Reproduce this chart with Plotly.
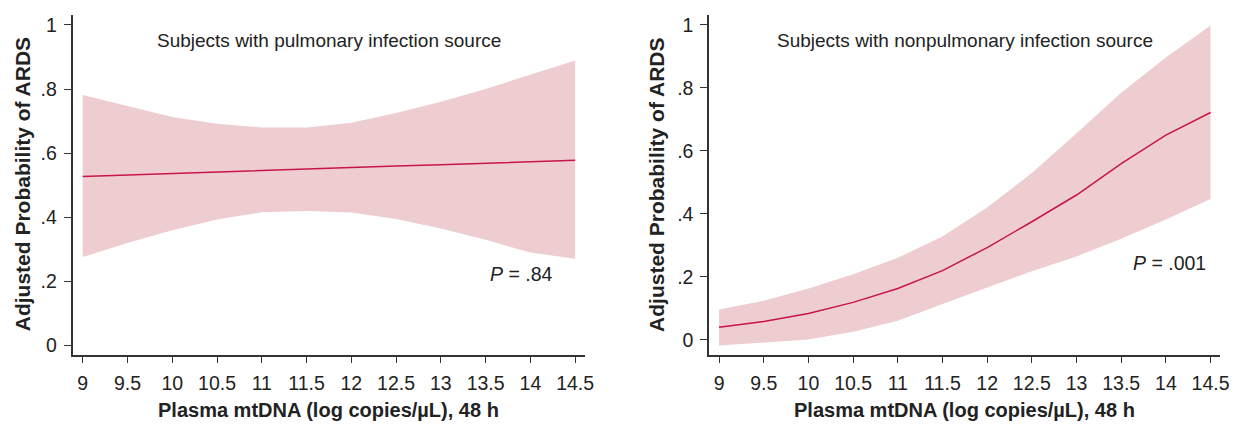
import plotly.graph_objects as go

# ---- data ----
x_vals = [9, 9.5, 10, 10.5, 11, 11.5, 12, 12.5, 13, 13.5, 14, 14.5]

pulm_mean = [0.527, 0.532, 0.537, 0.541, 0.546, 0.551, 0.555, 0.560, 0.564, 0.569, 0.573, 0.578]
pulm_upper = [0.781, 0.746, 0.713, 0.692, 0.680, 0.680, 0.695, 0.725, 0.760, 0.800, 0.845, 0.889]
pulm_lower = [0.276, 0.320, 0.360, 0.393, 0.416, 0.420, 0.415, 0.395, 0.365, 0.330, 0.290, 0.271]

nonpulm_mean = [0.040, 0.058, 0.084, 0.119, 0.163, 0.220, 0.293, 0.375, 0.460, 0.560, 0.650, 0.722]
nonpulm_upper = [0.096, 0.124, 0.163, 0.208, 0.261, 0.328, 0.420, 0.530, 0.656, 0.785, 0.897, 0.998]
nonpulm_lower = [-0.018, -0.009, 0.001, 0.026, 0.061, 0.114, 0.167, 0.218, 0.265, 0.321, 0.382, 0.447]

x_ticks = [9, 9.5, 10, 10.5, 11, 11.5, 12, 12.5, 13, 13.5, 14, 14.5]
x_tick_text = ["9", "9.5", "10", "10.5", "11", "11.5", "12", "12.5", "13", "13.5", "14", "14.5"]
y_ticks = [0, 0.2, 0.4, 0.6, 0.8, 1]
y_tick_text = ["0", ".2", ".4", ".6", ".8", "1"]

panel_titles = ["Subjects with pulmonary infection source", "Subjects with nonpulmonary infection source"]
p_texts = ["<i>P</i> = .84", "<i>P</i> = .001"]
y_title = "Adjusted Probability of ARDS"
x_title = "Plasma mtDNA (log copies/µL), 48 h"

BAND = "rgb(238,205,209)"
LINE = "rgb(200,20,75)"
FONT = "Liberation Sans, Arial, sans-serif"
TXT = "#222222"

fig = go.Figure()

panels = [
    (pulm_mean, pulm_upper, pulm_lower, "x", "y"),
    (nonpulm_mean, nonpulm_upper, nonpulm_lower, "x2", "y2"),
]
for mean, up, lo, xa, ya in panels:
    fig.add_trace(go.Scatter(
        x=x_vals + x_vals[::-1], y=up + lo[::-1], fill="toself",
        fillcolor=BAND, line=dict(width=0), mode="lines",
        hoverinfo="skip", showlegend=False, xaxis=xa, yaxis=ya))
    fig.add_trace(go.Scatter(
        x=x_vals, y=mean, mode="lines", line=dict(color=LINE, width=1.5),
        showlegend=False, xaxis=xa, yaxis=ya))

axis_common = dict(
    showgrid=False, zeroline=False, showline=True, linecolor="#333333", linewidth=1.5,
    ticks="outside", ticklen=7, tickwidth=1.3, tickcolor="#333333",
    tickfont=dict(family=FONT, size=19.5, color=TXT), mirror=False,
    ticklabelstandoff=3,
)

fig.update_layout(
    width=1238, height=424,
    margin=dict(l=0, r=0, t=0, b=0),
    paper_bgcolor="white", plot_bgcolor="white",
    font=dict(family=FONT, color=TXT),
    xaxis=dict(domain=[0.059, 0.476], range=[8.886, 14.61], tickvals=x_ticks, ticktext=x_tick_text,
               anchor="y", **axis_common),
    yaxis=dict(domain=[0.160, 0.967], range=[-0.028, 1.031], tickvals=y_ticks, ticktext=y_tick_text,
               anchor="x", **axis_common),
    xaxis2=dict(domain=[0.577, 0.993], range=[8.889, 14.61], tickvals=x_ticks, ticktext=x_tick_text,
                anchor="y2", **axis_common),
    yaxis2=dict(domain=[0.160, 0.967], range=[-0.047, 1.032], tickvals=y_ticks, ticktext=y_tick_text,
                anchor="x2", **axis_common),
)

anns = []
for i in range(2):
    sfx = "" if i == 0 else "2"
    anns.append(dict(text=panel_titles[i], xref=f"x{sfx} domain", yref=f"y{sfx} domain",
                     x=0.5, y=0.925, showarrow=False, xanchor="center", yanchor="middle",
                     font=dict(family=FONT, size=19, color=TXT)))
    anns.append(dict(text=y_title, xref=f"x{sfx} domain", yref=f"y{sfx} domain",
                     x=0, xshift=-50 if i == 0 else -52, y=0.5, textangle=-90, showarrow=False,
                     xanchor="center", yanchor="middle",
                     font=dict(family=FONT, size=21, color=TXT, weight="bold")))
    anns.append(dict(text=x_title, xref=f"x{sfx} domain", yref=f"y{sfx} domain",
                     x=0.5, y=0, yshift=-55, showarrow=False, xanchor="center", yanchor="middle",
                     font=dict(family=FONT, size=20, color=TXT, weight="bold")))
p_pos = [(14.27, 0.223), (14.47, 0.243)]
for i, (xa, ya) in enumerate([("x", "y"), ("x2", "y2")]):
    anns.append(dict(text=p_texts[i], xref=xa, yref=ya, x=p_pos[i][0], y=p_pos[i][1],
                     showarrow=False, xanchor="right", yanchor="middle",
                     font=dict(family=FONT, size=19.5, color=TXT)))
fig.update_layout(annotations=anns)

fig.write_html("out.html")
